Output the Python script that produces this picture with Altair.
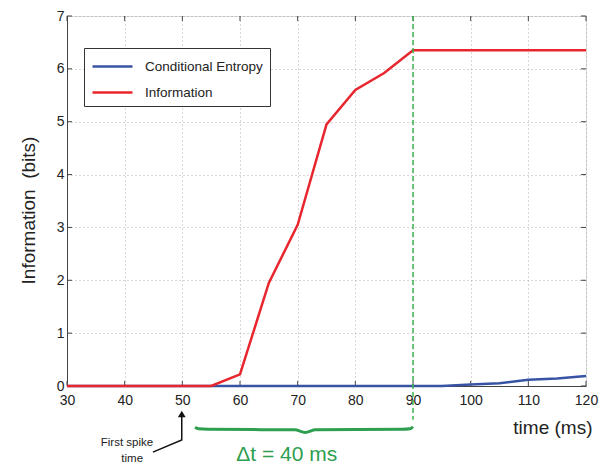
import altair as alt
import pandas as pd

# ---- data ----
time_ms = [30, 35, 40, 45, 50, 55, 60, 65, 70, 75, 80, 85, 90, 95, 100, 105, 110, 115, 120]
information = [0, 0, 0, 0, 0, 0, 0.22, 1.95, 3.05, 4.95, 5.6, 5.92, 6.35, 6.35, 6.35, 6.35, 6.35, 6.35, 6.35]
cond_entropy = [0, 0, 0, 0, 0, 0, 0, 0, 0, 0, 0, 0, 0, 0, 0.03, 0.05, 0.12, 0.14, 0.19]
series_names = ["Conditional Entropy", "Information"]
series_colors = ["#3953a4", "#e8262e"]
x_ticks = [30, 40, 50, 60, 70, 80, 90, 100, 110, 120]
y_ticks = [0, 1, 2, 3, 4, 5, 6, 7]

# annotation values
marker_time = [90]
marker_top = [7]
marker_bottom = [-0.64]
brace_x = [52.2, 52.8, 54.5, 69.5, 71.3, 73.1, 88.0, 89.5, 90.0]
brace_y = [-0.78, -0.81, -0.82, -0.83, -0.88, -0.83, -0.82, -0.81, -0.77]
arrow_x = [44.9, 49.9, 49.9]
arrow_y = [-1.25, -1.02, -0.55]
arrowhead_x = [49.9]
arrowhead_y = [-0.53]
label_text = ["First spike", "time"]
label_x = [40.4, 41.3]
label_y = [-1.08, -1.39]
delta_text = ["\u0394t = 40 ms"]
delta_x = [68.1]
delta_y = [-1.30]

FONT = "Liberation Sans"
X_MIN, X_MAX, Y_MIN, Y_MAX = 30, 120, 0, 7
X_TICK_LEN, Y_TICK_LEN = 0.87, 0.095

df_ce = pd.DataFrame({"t": time_ms, "v": cond_entropy, "series": series_names[0]})
df_inf = pd.DataFrame({"t": time_ms, "v": information, "series": series_names[1]})

x_enc = alt.X(
    "t:Q",
    scale=alt.Scale(domain=[X_MIN, X_MAX], nice=False, zero=False),
    axis=alt.Axis(
        values=x_ticks, format="d", title="time (ms)", grid=True, gridDash=[1, 3],
        gridColor="#9a9a9a", gridWidth=0.8, ticks=False, labelPadding=7, labelFontSize=14,
        labelFont=FONT, labelColor="#222", titleFont=FONT, titleFontSize=19,
        titleFontWeight="normal", titleColor="#222", titleX=525, titleY=41,
        titleAlign="right", titleBaseline="middle", domainColor="#444", labelFlush=False,
    ),
)
y_enc = alt.Y(
    "v:Q",
    scale=alt.Scale(domain=[Y_MIN, Y_MAX], nice=False, zero=False),
    axis=alt.Axis(
        values=y_ticks, format="d", title="Information\u00a0 (bits)", grid=True,
        gridDash=[1, 3], gridColor="#9a9a9a", gridWidth=0.8, ticks=False, labelPadding=3,
        labelFontSize=14, labelFont=FONT, labelColor="#222", titleFont=FONT,
        titleFontSize=19, titleFontWeight="normal", titleColor="#222", titleX=-39,
        titleY=194, titleAngle=270, titleAlign="center", titleBaseline="middle",
        domainColor="#444", labelFlush=False,
    ),
)
color_enc = alt.Color(
    "series:N",
    scale=alt.Scale(domain=series_names, range=series_colors),
    legend=alt.Legend(
        title=None, orient="none", legendX=17, legendY=32, symbolType="M-1,0H3",
        symbolSize=400, symbolStrokeWidth=2.5, labelOffset=31, padding=7, rowPadding=8,
        strokeColor="#333", fillColor="white", labelFontSize=13.5, labelFont=FONT,
        labelColor="#222",
    ),
)

# inward ticks on all four sides (MATLAB style)
tick_rows = []
for t in x_ticks:
    tick_rows.append({"a": t, "a2": t, "b": Y_MIN, "b2": Y_MIN + Y_TICK_LEN})
    tick_rows.append({"a": t, "a2": t, "b": Y_MAX, "b2": Y_MAX - Y_TICK_LEN})
for v in y_ticks:
    tick_rows.append({"a": X_MIN, "a2": X_MIN + X_TICK_LEN, "b": v, "b2": v})
    tick_rows.append({"a": X_MAX, "a2": X_MAX - X_TICK_LEN, "b": v, "b2": v})
ticks = alt.Chart(pd.DataFrame(tick_rows)).mark_rule(color="#444", strokeWidth=1).encode(
    x="a:Q", x2="a2:Q", y="b:Q", y2="b2:Q"
)

ce_line = alt.Chart(df_ce).mark_line(strokeWidth=2.5).encode(x=x_enc, y=y_enc, color=color_enc)
inf_line = alt.Chart(df_inf).mark_line(strokeWidth=2.5).encode(x="t:Q", y="v:Q", color="series:N")

marker = alt.Chart(pd.DataFrame({"t": marker_time, "v": marker_top, "v2": marker_bottom})).mark_rule(
    color="#3cb44b", strokeWidth=1.5, strokeDash=[5, 3]
).encode(x="t:Q", y="v:Q", y2="v2:Q")

brace = alt.Chart(pd.DataFrame({"t": brace_x, "v": brace_y, "o": list(range(len(brace_x)))})).mark_line(
    color="#2e9e4f", strokeWidth=3, interpolate="monotone"
).encode(x="t:Q", y="v:Q", order="o:O")

arrow = alt.Chart(pd.DataFrame({"t": arrow_x, "v": arrow_y, "o": list(range(len(arrow_x)))})).mark_line(
    color="#111", strokeWidth=1.5
).encode(x="t:Q", y="v:Q", order="o:O")

arrowhead = alt.Chart(pd.DataFrame({"t": arrowhead_x, "v": arrowhead_y})).mark_point(
    shape="triangle-up", filled=True, color="#111", size=60, opacity=1
).encode(x="t:Q", y="v:Q")

labels = alt.Chart(pd.DataFrame({"t": label_x, "v": label_y, "s": label_text})).mark_text(
    font=FONT, fontSize=11.5, color="#222", align="center", baseline="middle"
).encode(x="t:Q", y="v:Q", text="s:N")

delta = alt.Chart(pd.DataFrame({"t": delta_x, "v": delta_y, "s": delta_text})).mark_text(
    font=FONT, fontSize=21, color="#2e9e4f", align="center", baseline="middle"
).encode(x="t:Q", y="v:Q", text="s:N")

chart = alt.layer(ticks, ce_line, inf_line, marker, brace, arrow, arrowhead, labels, delta).properties(
    width=519, height=370,
    autosize=alt.AutoSizeParams(type="none"),
    padding={"left": 67, "top": 16, "right": 22, "bottom": 80},
).configure_view(stroke="#444", strokeWidth=1).configure(background="white")

chart.save("out.html", embed_options={"renderer": "svg", "actions": False})
